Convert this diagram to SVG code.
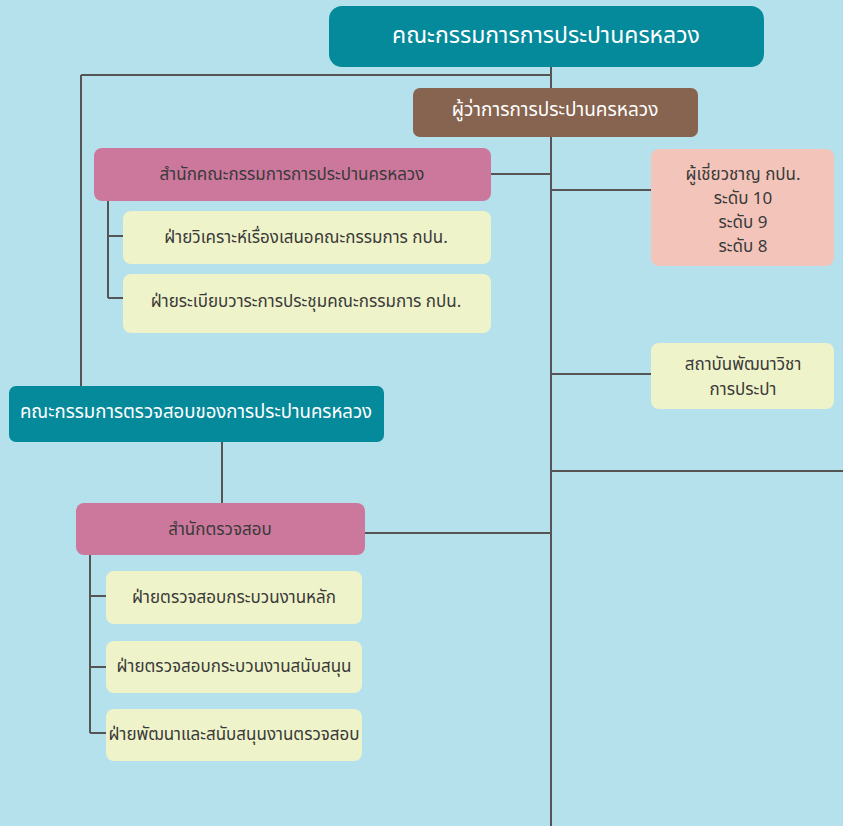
<svg xmlns="http://www.w3.org/2000/svg" width="843" height="826" viewBox="0 0 843 826">
<style>
text{font-family:"Noto Sans Thai","Noto Sans","DejaVu Sans",sans-serif;text-anchor:middle;dominant-baseline:central}
.ln{stroke:#555;stroke-width:2;fill:none}
.teal{fill:#058a9b}
.pink{fill:#cc789d}
.yel{fill:#eff3c9}
.peach{fill:#f3c4b9}
.brown{fill:#87644f}
.w{fill:#fff}
.d{fill:#3a3a3a;font-size:17px}
</style>
<rect width="843" height="826" fill="#b5e1ec"/>
<g id="connectors" class="ln">
<path d="M551 67V826"/>
<path d="M81 75H551M81 75V386"/>
<path d="M491 174H551"/>
<path d="M551 190H651"/>
<path d="M108 201V298M108 236H123M108 298H123"/>
<path d="M551 374H651"/>
<path d="M551 471H843"/>
<path d="M222 442V503"/>
<path d="M365 533H551"/>
<path d="M90 555V733M90 596H106M90 667H106M90 733H106"/>
</g>
<g id="n-board"><rect class="teal" x="329" y="6" width="435" height="61" rx="13"/><text class="w" x="546" y="36" font-size="23">คณะกรรมการการประปานครหลวง</text></g>
<g id="n-governor"><rect class="brown" x="413" y="88" width="285" height="49" rx="7"/><text class="w" x="555" y="110" font-size="19">ผู้ว่าการการประปานครหลวง</text></g>
<g id="n-office"><rect class="pink" x="94" y="148" width="397" height="53" rx="8"/><text class="d" x="292" y="175">สำนักคณะกรรมการการประปานครหลวง</text></g>
<g id="n-analysis"><rect class="yel" x="123" y="211" width="368" height="53" rx="8"/><text class="d" x="306" y="238">ฝ่ายวิเคราะห์เรื่องเสนอคณะกรรมการ กปน.</text></g>
<g id="n-agenda"><rect class="yel" x="123" y="274" width="368" height="59" rx="8"/><text class="d" x="306" y="302">ฝ่ายระเบียบวาระการประชุมคณะกรรมการ กปน.</text></g>
<g id="n-expert"><rect class="peach" x="651" y="149" width="183" height="117" rx="8"/>
<text class="d" x="743" y="175">ผู้เชี่ยวชาญ กปน.</text><text class="d" x="743" y="199">ระดับ 10</text><text class="d" x="743" y="223">ระดับ 9</text><text class="d" x="743" y="247">ระดับ 8</text></g>
<g id="n-institute"><rect class="yel" x="651" y="343" width="183" height="66" rx="8"/>
<text class="d" x="743" y="365">สถาบันพัฒนาวิชา</text><text class="d" x="743" y="390">การประปา</text></g>
<g id="n-audit-committee"><rect class="teal" x="9" y="386" width="375" height="56" rx="7"/><text class="w" x="196" y="412" font-size="18.6">คณะกรรมการตรวจสอบของการประปานครหลวง</text></g>
<g id="n-audit-office"><rect class="pink" x="76" y="503" width="289" height="52" rx="8"/><text class="d" x="220" y="530">สำนักตรวจสอบ</text></g>
<g id="n-audit1"><rect class="yel" x="106" y="571" width="256" height="53" rx="8"/><text class="d" x="234" y="598">ฝ่ายตรวจสอบกระบวนงานหลัก</text></g>
<g id="n-audit2"><rect class="yel" x="106" y="641" width="256" height="52" rx="8"/><text class="d" x="234" y="667">ฝ่ายตรวจสอบกระบวนงานสนับสนุน</text></g>
<g id="n-audit3"><rect class="yel" x="106" y="709" width="256" height="52" rx="8"/><text class="d" x="234" y="735">ฝ่ายพัฒนาและสนับสนุนงานตรวจสอบ</text></g>
</svg>
